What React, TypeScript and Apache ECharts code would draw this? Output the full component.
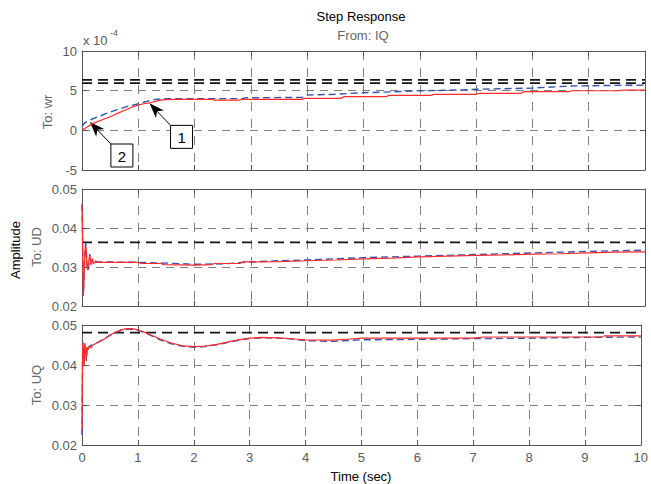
import React, { useEffect, useRef } from "react";
import * as echarts from "echarts";

// ---- Data (time in sec) ----
// To: wr, values in units of 1e-4
const wrBlue: [number, number][] = [
  [0, 0.5], [0.05, 0.95], [0.14, 1.3], [0.3, 1.75], [0.44, 2.14], [0.6, 2.55], [0.79, 2.98],
  [1.0, 3.35], [1.15, 3.65], [1.3, 3.9], [1.5, 4.0], [2.85, 4.0], [2.9, 4.1], [3.9, 4.15],
  [4.0, 4.45], [4.5, 4.55], [5.0, 4.74], [5.5, 4.85], [6.0, 4.99], [6.5, 5.05], [7.0, 5.17],
  [7.5, 5.25], [8.0, 5.33], [8.7, 5.59], [9.5, 5.67], [10, 5.7],
];
const wrRed: [number, number][] = [
  [0, 0], [0.1, 0.45], [0.2, 0.88], [0.35, 1.3], [0.5, 1.72], [0.65, 2.2], [0.8, 2.65],
  [0.9, 2.95], [1.0, 3.2], [1.1, 3.35], [1.2, 3.45], [1.3, 3.65], [1.4, 3.8], [1.5, 3.88],
  [1.7, 3.9], [2.3, 3.9], [2.35, 3.82], [2.8, 3.82], [2.85, 3.9], [3.9, 3.9], [3.95, 4.03],
  [4.6, 4.03], [4.65, 4.24], [5.4, 4.24], [5.45, 4.41], [6.2, 4.41], [6.25, 4.54], [7.0, 4.54],
  [7.05, 4.67], [7.8, 4.67], [7.85, 4.87], [8.65, 4.87], [8.7, 4.99], [9.55, 4.99], [9.6, 5.08],
  [10, 5.08],
];
const wrRefLevels = [6.35, 5.95];

// To: UD
const udBlue: [number, number][] = [
  [0, 0.046], [0.008, 0.039], [0.018, 0.028], [0.026, 0.0237], [0.036, 0.027], [0.05, 0.033],
  [0.066, 0.0362], [0.078, 0.0335], [0.092, 0.0298], [0.108, 0.029], [0.125, 0.031],
  [0.14, 0.0333], [0.16, 0.031], [0.18, 0.0315], [0.2, 0.032], [0.24, 0.0312], [0.3, 0.0313],
  [1.0, 0.0312], [1.5, 0.031], [2.0, 0.0307], [2.5, 0.0308], [3.0, 0.0313], [3.5, 0.0316],
  [4.0, 0.0318], [5.0, 0.0324], [6.0, 0.0328], [7.0, 0.0332], [8.0, 0.0336], [9.0, 0.034],
  [10, 0.0343],
];
const udRed: [number, number][] = [
  [0, 0.046], [0.008, 0.04], [0.016, 0.03], [0.024, 0.0225], [0.032, 0.025], [0.045, 0.031],
  [0.06, 0.0355], [0.072, 0.0352], [0.085, 0.031], [0.1, 0.0292], [0.12, 0.0315], [0.14, 0.033],
  [0.16, 0.0305], [0.18, 0.0322], [0.2, 0.0308], [0.24, 0.0315], [0.3, 0.0312], [1.0, 0.0312],
  [1.05, 0.0309], [1.4, 0.0309], [1.45, 0.0306], [2.0, 0.0305], [2.3, 0.0306], [2.35, 0.0309],
  [2.8, 0.0309], [2.85, 0.0313], [3.5, 0.0314], [4.0, 0.0316], [4.5, 0.0318], [5.0, 0.0321],
  [5.5, 0.0323], [6.0, 0.0326], [6.5, 0.0328], [7.0, 0.033], [7.5, 0.0331], [8.0, 0.0333],
  [8.5, 0.0334], [9.0, 0.0336], [9.5, 0.0338], [10, 0.0339],
];
const udRefLevels = [0.0363];

// To: UQ
const uqBlue: [number, number][] = [
  [0, 0.0225], [0.006, 0.036], [0.014, 0.0458], [0.024, 0.044], [0.034, 0.0405], [0.045, 0.0415],
  [0.055, 0.045], [0.068, 0.0435], [0.08, 0.041], [0.095, 0.0448], [0.115, 0.0442],
  [0.14, 0.0447], [0.2, 0.0452], [0.3, 0.0457], [0.5, 0.0474], [0.7, 0.0487], [0.85, 0.049],
  [1.0, 0.0487], [1.2, 0.0476], [1.4, 0.0463], [1.6, 0.0453], [1.8, 0.0447], [2.0, 0.0444],
  [2.2, 0.0446], [2.5, 0.0453], [2.8, 0.0462], [3.0, 0.0466], [3.3, 0.0468], [3.7, 0.0466],
  [4.0, 0.0461], [4.5, 0.0459], [5.0, 0.0463], [6.0, 0.0464], [7.0, 0.0466], [8.0, 0.0467],
  [9.0, 0.0469], [10, 0.047],
];
const uqRed: [number, number][] = [
  [0, 0.0235], [0.005, 0.035], [0.012, 0.0455], [0.02, 0.0452], [0.03, 0.0405], [0.04, 0.04],
  [0.05, 0.0455], [0.06, 0.0445], [0.075, 0.0415], [0.09, 0.0445], [0.11, 0.0438],
  [0.13, 0.0448], [0.16, 0.0443], [0.2, 0.045], [0.3, 0.0458], [0.4, 0.0465], [0.5, 0.0475],
  [0.6, 0.0482], [0.7, 0.0488], [0.8, 0.0491], [0.9, 0.0491], [1.0, 0.0488], [1.1, 0.0483],
  [1.2, 0.0477], [1.4, 0.0465], [1.6, 0.0455], [1.8, 0.0448], [2.0, 0.0446], [2.2, 0.0447],
  [2.4, 0.0451], [2.6, 0.0457], [2.8, 0.0463], [3.0, 0.0467], [3.2, 0.0469], [3.5, 0.0468],
  [3.8, 0.0465], [4.0, 0.0463], [4.5, 0.0462], [4.8, 0.0465], [5.0, 0.0467], [7.0, 0.0467],
  [7.2, 0.047], [9.3, 0.047], [9.35, 0.0473], [10, 0.0473],
];
const uqRefLevels = [0.0481];

// Axes
const timeTicks = { min: 0, max: 10, interval: 1 };
const panelNames = ["To: wr", "To: UD", "To: UQ"];
const yRanges = [
  { min: -5, max: 10, interval: 5 },
  { min: 0.02, max: 0.05, interval: 0.01 },
  { min: 0.02, max: 0.05, interval: 0.01 },
];
// Annotations: [label, t, value] on the To: wr panel (value in 1e-4)
const annotations: [string, number, number][] = [
  ["1", 1.2, 3.4],
  ["2", 0.14, 1.05],
];

const FONT = "'Liberation Sans', Arial, Helvetica, sans-serif";
const FRAME = "#555";
const LABEL = "#5a5a5a";

export default function App() {
  const ref = useRef<HTMLDivElement>(null);
  useEffect(() => {
    if (!ref.current) return;
    const chart = echarts.init(ref.current, undefined, { renderer: "svg" });
    const grids = [
      { left: 82, top: 51, width: 563, height: 119 },
      { left: 82, top: 189, width: 563, height: 117 },
      { left: 82, top: 325, width: 563, height: 120 },
    ];
    const xAxes: any[] = [];
    const yAxes: any[] = [];
    grids.forEach((_, i) => {
      xAxes.push({
        gridIndex: i, type: "value", ...timeTicks, position: "bottom",
        axisLine: { show: true, onZero: false, lineStyle: { color: FRAME, width: 1 } },
        axisTick: { show: true, inside: true, length: 5, lineStyle: { color: FRAME } },
        axisLabel: {
          show: i === 2, color: LABEL, fontFamily: FONT, fontSize: 13, margin: 6,
        },
        splitLine: { show: true, lineStyle: { color: "#808080", width: 1, type: [9, 8] } },
      });
      xAxes.push({
        gridIndex: i, type: "value", ...timeTicks, position: "top",
        axisLine: { show: true, onZero: false, lineStyle: { color: FRAME, width: 1 } },
        axisTick: { show: true, inside: true, length: 5, lineStyle: { color: FRAME } },
        axisLabel: { show: false },
        splitLine: { show: false },
      });
      yAxes.push({
        gridIndex: i, type: "value", ...yRanges[i], position: "left",
        axisLine: { show: true, onZero: false, lineStyle: { color: FRAME, width: 1 } },
        axisTick: { show: true, inside: true, length: 5, lineStyle: { color: FRAME } },
        axisLabel: {
          color: LABEL, fontFamily: FONT, fontSize: 13, margin: 5,
          formatter: (v: number) => (i === 0 ? String(Math.round(v)) : v.toFixed(2)),
        },
        splitLine: { show: true, lineStyle: { color: "#808080", width: 1, type: [8, 6] } },
      });
      yAxes.push({
        gridIndex: i, type: "value", ...yRanges[i], position: "right",
        axisLine: { show: true, onZero: false, lineStyle: { color: FRAME, width: 1 } },
        axisTick: { show: true, inside: true, length: 5, lineStyle: { color: FRAME } },
        axisLabel: { show: false },
        splitLine: { show: false },
      });
    });

    const panels = [
      { blue: wrBlue, red: wrRed, refs: wrRefLevels },
      { blue: udBlue, red: udRed, refs: udRefLevels },
      { blue: uqBlue, red: uqRed, refs: uqRefLevels },
    ];
    const series: any[] = [];
    panels.forEach((p, i) => {
      p.refs.forEach((lvl) => {
        series.push({
          type: "line", xAxisIndex: i * 2, yAxisIndex: i * 2, symbol: "none", silent: true,
          data: [[timeTicks.min, lvl], [timeTicks.max, lvl]],
          lineStyle: { color: "#151515", width: 1.8, type: [10, 6] },
        });
      });
      series.push({
        type: "line", xAxisIndex: i * 2, yAxisIndex: i * 2, symbol: "none",
        data: p.blue, lineStyle: { color: "#3555b0", width: 1.4, type: [7, 4] },
      });
      series.push({
        type: "line", xAxisIndex: i * 2, yAxisIndex: i * 2, symbol: "none",
        data: p.red, lineStyle: { color: "#ff2a2a", width: 1.2 },
      });
    });

    chart.setOption({
      animation: false,
      backgroundColor: "#ffffff",
      grid: grids.map((g) => ({ ...g, containLabel: false })),
      xAxis: xAxes,
      yAxis: yAxes,
      series,
    });

    const textEl = (text: string, x: number, y: number, opts: any = {}) => ({
      type: "text", x, y, rotation: opts.rotation || 0,
      style: {
        text, fill: opts.fill || "#000", font: `${opts.size || 13}px ${FONT}`,
        align: opts.align || "center", verticalAlign: "middle",
      },
    });

    const graphics: any[] = [
      textEl("Step Response", 361, 16),
      textEl("From: IQ", 363, 35, { fill: "#666" }),
      textEl("x 10", 83, 40, { fill: LABEL, align: "left" }),
      textEl("-4", 110, 33, { fill: LABEL, align: "left", size: 9 }),
      textEl(panelNames[0], 47.5, 112, { fill: "#666", rotation: Math.PI / 2 }),
      textEl(panelNames[1], 36, 247, { fill: "#666", rotation: Math.PI / 2 }),
      textEl(panelNames[2], 36, 385, { fill: "#666", rotation: Math.PI / 2 }),
      textEl("Amplitude", 15, 250, { rotation: Math.PI / 2 }),
      textEl("Time (sec)", 361, 476),
    ];

    annotations.forEach(([label, t, v]) => {
      const tip = chart.convertToPixel({ xAxisIndex: 0, yAxisIndex: 0 }, [t, v]) as number[];
      const tail = [tip[0] + 21, tip[1] + 22];
      const dx = tip[0] - tail[0];
      const dy = tip[1] - tail[1];
      const len = Math.hypot(dx, dy);
      const ux = dx / len, uy = dy / len;
      const nx = -uy, ny = ux;
      const L = 15, W = 11;
      const bx = tip[0] - ux * L, by = tip[1] - uy * L;
      graphics.push({
        type: "line",
        shape: { x1: tail[0], y1: tail[1], x2: bx + ux * 4, y2: by + uy * 4 },
        style: { stroke: "#000", lineWidth: 1 },
      });
      graphics.push({
        type: "polygon",
        shape: {
          points: [
            [tip[0], tip[1]],
            [bx + nx * W / 2, by + ny * W / 2],
            [tip[0] - ux * L * 0.72, tip[1] - uy * L * 0.72],
            [bx - nx * W / 2, by - ny * W / 2],
          ],
        },
        style: { fill: "#000" },
      });
      graphics.push({
        type: "rect",
        shape: { x: tail[0], y: tail[1], width: 22, height: 23 },
        style: { fill: "#fff", stroke: "#000", lineWidth: 1 },
      });
      graphics.push(textEl(label, tail[0] + 11, tail[1] + 12, { size: 15 }));
    });

    chart.setOption({ graphic: graphics });

    return () => chart.dispose();
  }, []);

  return (
    <div
      ref={ref}
      style={{ position: "fixed", left: 0, top: 0, width: 651, height: 484, background: "#fff" }}
    />
  );
}
